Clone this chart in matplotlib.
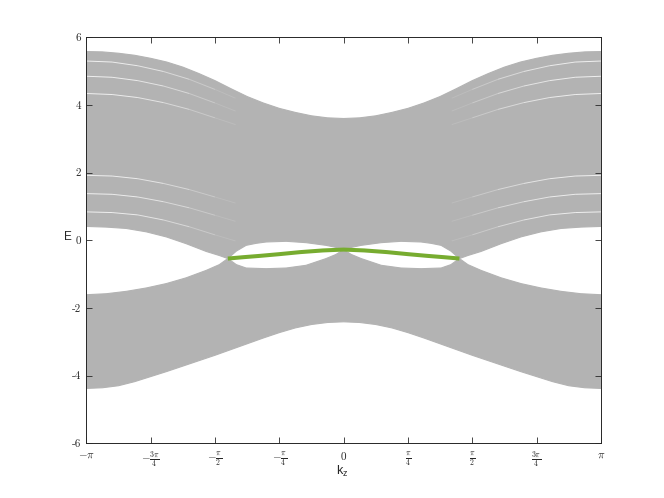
import numpy as np
import matplotlib
matplotlib.use("Agg")
import matplotlib.pyplot as plt
from matplotlib.collections import LineCollection

plt.rcParams['mathtext.fontset'] = 'cm'
plt.rcParams['axes.unicode_minus'] = False

# k_z in units of pi
kz_env = [-1, -15/16, -14/16, -13/16, -12/16, -11/16, -10/16, -9/16, -8/16,
          -7/16, -6/16, -5/16, -4/16, -3/16, -2/16, -1/16, 0,
          1/16, 2/16, 3/16, 4/16, 5/16, 6/16, 7/16, 8/16,
          9/16, 10/16, 11/16, 12/16, 13/16, 14/16, 15/16, 1]

# top of the conduction bulk bands
upper_top = [5.58, 5.57, 5.53, 5.47, 5.38, 5.27, 5.12, 4.93, 4.72,
             4.48, 4.25, 4.06, 3.90, 3.78, 3.68, 3.62, 3.60,
             3.62, 3.68, 3.78, 3.90, 4.06, 4.25, 4.48, 4.72,
             4.93, 5.12, 5.27, 5.38, 5.47, 5.53, 5.57, 5.58]

# bottom of the valence bulk bands
lower_bot = [-4.38, -4.36, -4.30, -4.18, -4.03, -3.88, -3.72, -3.56, -3.40,
             -3.23, -3.06, -2.89, -2.73, -2.59, -2.49, -2.43, -2.41,
             -2.43, -2.49, -2.59, -2.73, -2.89, -3.06, -3.23, -3.40,
             -3.56, -3.72, -3.88, -4.03, -4.18, -4.30, -4.36, -4.38]

# inner edges around the gap (bands touch at the Weyl points and at 0)
kz_gap = [-1, -0.922, -0.845, -0.767, -0.689, -0.612, -0.534, -0.483, -0.45,
          -0.417, -0.379, -0.34, -0.301, -0.223, -0.146, -0.068, -0.03, 0,
          0.03, 0.068, 0.146, 0.223, 0.301, 0.34, 0.379, 0.417,
          0.45, 0.483, 0.534, 0.612, 0.689, 0.767, 0.845, 0.922, 1]
upper_bot = [0.41, 0.39, 0.35, 0.25, 0.10, -0.10, -0.33, -0.45, -0.54,
             -0.32, -0.15, -0.09, -0.05, -0.03, -0.07, -0.15, -0.21, -0.28,
             -0.21, -0.15, -0.07, -0.03, -0.05, -0.09, -0.15, -0.32,
             -0.54, -0.45, -0.33, -0.10, 0.10, 0.25, 0.35, 0.39, 0.41]
lower_top = [-1.61, -1.58, -1.51, -1.41, -1.28, -1.11, -0.89, -0.72, -0.54,
             -0.72, -0.82, -0.83, -0.84, -0.82, -0.74, -0.54, -0.42, -0.28,
             -0.42, -0.54, -0.74, -0.82, -0.84, -0.83, -0.82, -0.72,
             -0.54, -0.72, -0.89, -1.11, -1.28, -1.41, -1.51, -1.58, -1.61]

# surface state (Fermi arc) between the Weyl points
kz_arc = [-0.45, -0.39, -0.324, -0.25, -0.169, -0.08, 0,
          0.08, 0.169, 0.25, 0.324, 0.39, 0.45]
E_arc = [-0.54, -0.50, -0.46, -0.41, -0.35, -0.30, -0.275,
         -0.30, -0.35, -0.41, -0.46, -0.50, -0.54]

# a few visible gaps between bulk subbands (left side, mirrored on the right)
stripe_kz = [-1, -0.9, -0.8, -0.7, -0.6, -0.5, -0.42]
stripe_E = [
    [5.30, 5.27, 5.16, 4.99, 4.76, 4.46, 4.20],
    [4.85, 4.82, 4.72, 4.56, 4.34, 4.06, 3.82],
    [4.34, 4.31, 4.22, 4.07, 3.87, 3.62, 3.42],
    [1.92, 1.90, 1.82, 1.68, 1.50, 1.28, 1.10],
    [1.38, 1.36, 1.28, 1.14, 0.96, 0.74, 0.56],
    [0.84, 0.82, 0.75, 0.60, 0.40, 0.16, -0.02],
]
stripe_fade = [0.8, 0.75, 0.65, 0.5, 0.3, 0.12]

xtick_vals = [-1, -0.75, -0.5, -0.25, 0, 0.25, 0.5, 0.75, 1]
xtick_labels = [r'$-\pi$', r'$-\frac{3\pi}{4}$', r'$-\frac{\pi}{2}$', r'$-\frac{\pi}{4}$',
                r'$0$', r'$\frac{\pi}{4}$', r'$\frac{\pi}{2}$', r'$\frac{3\pi}{4}$', r'$\pi$']
ytick_vals = [-6, -4, -2, 0, 2, 4, 6]
ytick_labels = ['-6', '-4', '-2', '0', '2', '4', '6']

band_col = '#b3b3b3'
arc_col = '#77ac30'

fig = plt.figure(figsize=(6.64, 4.98), dpi=100)
ax = fig.add_axes([0.13, 0.11, 0.775, 0.815])

# conduction bands
ax.fill(np.concatenate([kz_env, kz_gap[::-1]]),
        np.concatenate([upper_top, upper_bot[::-1]]),
        color=band_col, lw=0.8, ec=band_col)
# valence bands
ax.fill(np.concatenate([kz_gap, kz_env[::-1]]),
        np.concatenate([lower_top, lower_bot[::-1]]),
        color=band_col, lw=0.8, ec=band_col)

cols = [(1, 1, 1, a) for a in stripe_fade]
for e in stripe_E:
    for sign in (1, -1):
        pts = np.column_stack([sign * np.array(stripe_kz), e])
        segs = np.stack([pts[:-1], pts[1:]], axis=1)
        ax.add_collection(LineCollection(segs, colors=cols, linewidths=0.7))

ax.plot(kz_arc, E_arc, color=arc_col, lw=2.9, solid_capstyle='butt')

ax.set_xlim(-1, 1)
ax.set_ylim(-6, 6)
ax.set_xticks(xtick_vals)
ax.set_xticklabels(xtick_labels, fontsize=8)
ax.set_yticks(ytick_vals)
ax.set_yticklabels(ytick_labels, fontfamily='cmr10', fontsize=8)

for s in ax.spines.values():
    s.set_color('#262626')
    s.set_linewidth(0.7)
ax.tick_params(direction='in', length=4, width=0.6, color='#262626',
               top=True, right=True, labelcolor='#262626')
ax.tick_params(axis='y', pad=4)
ax.tick_params(axis='x', pad=5)

ax.set_ylabel('E', rotation=0, fontfamily='Liberation Sans', fontsize=8.5,
              ha='center', va='center', color='#262626')
ax.yaxis.set_label_coords(-0.035, 0.507)
ax.set_xlabel(r'$\mathregular{k_z}$', fontfamily='Liberation Sans', fontsize=9,
              va='top', color='#262626')
ax.xaxis.set_label_coords(0.497, -0.05)

fig.savefig('out.png', dpi=100)
